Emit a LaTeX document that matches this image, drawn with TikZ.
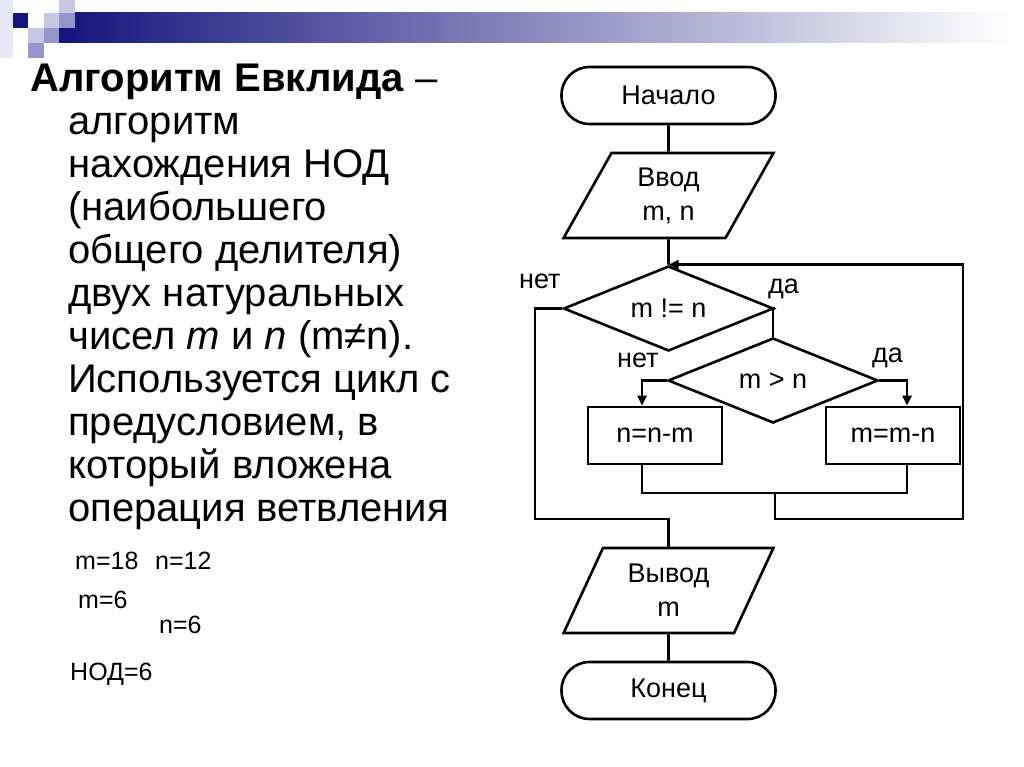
\documentclass[tikz,border=0pt]{standalone}
\usepackage{fontspec}
\setmainfont{Liberation Sans}
\usetikzlibrary{shapes.geometric,arrows.meta}
\newcommand{\flowfnt}{\fontsize{27}{34}\selectfont}
\newcommand{\notefnt}{\fontsize{25}{29}\selectfont}
\newcommand{\descfnt}{\fontsize{40}{42.9}\selectfont}
\definecolor{navy}{RGB}{20,20,125}
\definecolor{lightsq}{RGB}{200,200,230}
\definecolor{medsq}{RGB}{150,150,205}
\definecolor{faintsq}{RGB}{232,232,244}
\definecolor{barmid}{RGB}{165,165,190}
\begin{document}
\begin{tikzpicture}[x=1pt,y=-1pt,
  line/.style={line width=2.6pt, line join=miter},
  arr/.style={line, -{Triangle[width=9pt,length=10pt]}},
  term/.style={draw, line width=2.6pt, rectangle, rounded corners=28pt, minimum width=214pt, minimum height=57pt, inner sep=0pt, font=\flowfnt},
  io/.style={draw, line width=2.6pt, trapezium, trapezium left angle=65, trapezium right angle=115, trapezium stretches=true, minimum width=210pt, minimum height=85pt, inner sep=0pt, align=center, font=\flowfnt},
  dec/.style={draw, line width=2.6pt, diamond, aspect=2.5, minimum width=210pt, minimum height=85pt, inner sep=0pt, font=\flowfnt},
  proc/.style={draw, rectangle, line width=2.6pt, minimum width=134pt, minimum height=57pt, inner sep=0pt, font=\flowfnt},
  lbl/.style={anchor=base west, inner sep=0pt, font=\flowfnt},
  note/.style={anchor=base west, inner sep=0pt, font=\notefnt},
  desc/.style={anchor=base west, inner sep=0pt, font=\descfnt},
]
\useasboundingbox (0,0) rectangle (1024,767);
\fill[white] (0,0) rectangle (1024,767);

% header decoration
\fill[faintsq] (0,0) rectangle (13,58);
\shade[left color=navy, middle color=barmid, right color=white] (59,13) rectangle (1010,43);
\fill[navy] (13,13) rectangle (28,28);
\fill[lightsq] (28,28) rectangle (44,43);
\fill[lightsq] (44,13) rectangle (59,28);
\fill[lightsq] (59,0) rectangle (75,13);
\fill[medsq] (59,13) rectangle (75,28);
\fill[medsq] (44,28) rectangle (59,43);
\fill[medsq] (28,43) rectangle (44,58);

% left description
\node[desc] (title) at (30,92) {\textbf{Алгоритм Евклида} –};
\node[desc] (body) at (68,135) {\begin{minipage}[t]{440pt}\descfnt\raggedright
алгоритм\\
нахождения НОД\\
(наибольшего\\
общего делителя)\\
двух натуральных\\
чисел \textit{m} и \textit{n} (m≠n).\\
Используется цикл с\\
предусловием, в\\
который вложена\\
операция ветвления\par\end{minipage}};

\node[note] (ex1) at (75,569) {m=18};
\node[note] (ex2) at (155,569) {n=12};
\node[note] (ex3) at (78,608) {m=6};
\node[note] (ex4) at (159,633) {n=6};
\node[note] (ex5) at (70,680) {НОД=6};

% flowchart
\node[term] (start) at (668.5,95.5) {Начало};
\node[io] (in) at (668.5,195.5) {Ввод\\m, n};
\node[dec] (c1) at (668.5,308.5) {m != n};
\node[dec] (c2) at (773,380.5) {m > n};
\node[proc] (b1) at (655,435.5) {n=n-m};
\node[proc] (b2) at (893,435.5) {m=m-n};
\node[io] (out) at (668.5,590.5) {Вывод\\m};
\node[term] (end) at (668.5,690.5) {Конец};

\node[lbl] (l1) at (519,288) {нет};
\node[lbl] (l2) at (768,293) {да};
\node[lbl] (l3) at (617,367) {нет};
\node[lbl] (l4) at (872,362) {да};

\coordinate (j1) at (775,493);
\coordinate (k1) at (963,519);
\coordinate (n1) at (535,519);

\draw[line] (start.south) -- (in.north);
\draw[line] (in.south) -- (c1.north);
\draw[line] (c1.east) -| (c2.north);
\draw[arr] (c2.west) -| ([xshift=-13pt]b1.north);
\draw[arr] (c2.east) -| ([xshift=14pt]b2.north);
\draw[line] ([xshift=-13pt]b1.south) |- (j1) -| ([xshift=14pt]b2.south);
\draw[arr] (j1) |- (k1) |- (c1.north);
\draw[line] (c1.west) -| (n1) -| (out.north);
\draw[line] (out.south) -- (end.north);
\end{tikzpicture}
\end{document}
